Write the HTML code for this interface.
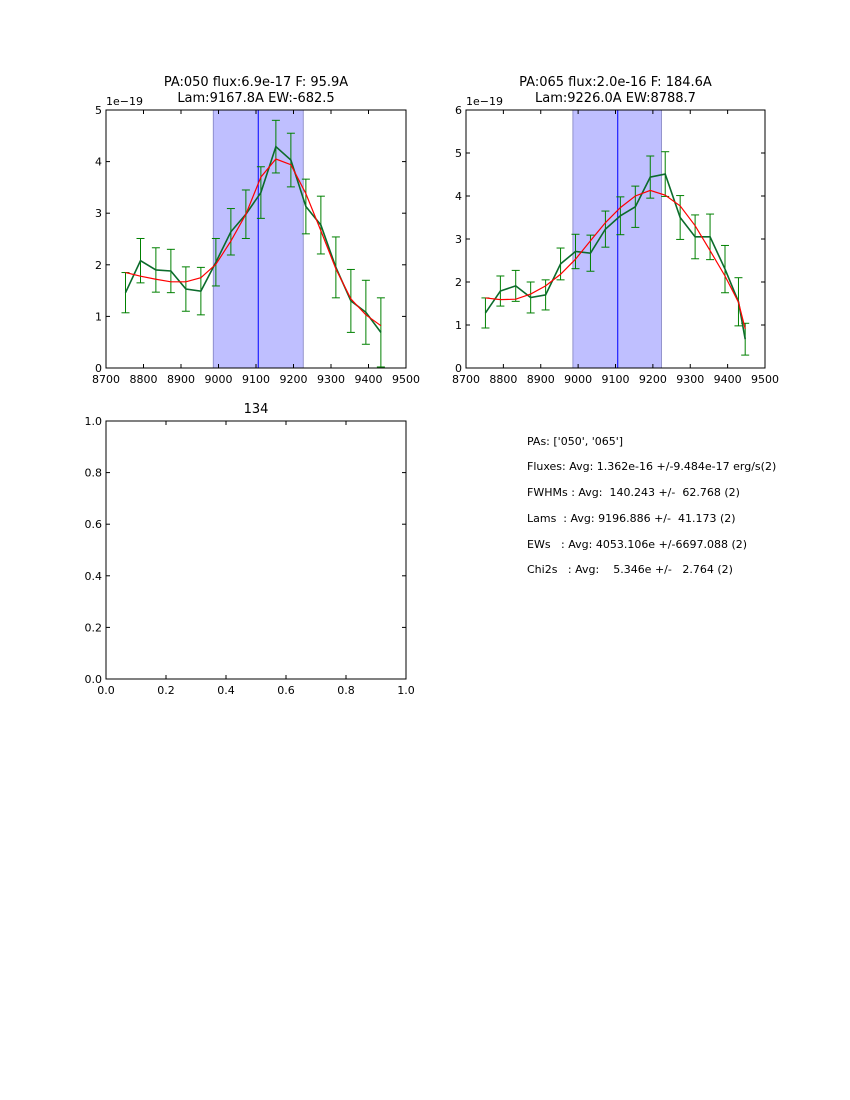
<!DOCTYPE html>
<html><head><meta charset="utf-8"><style>
body{margin:0;background:#fff;}
svg{display:block;font-family:"DejaVu Sans","Liberation Sans",sans-serif;}
</style></head><body>
<svg id="fig" width="850" height="1100" viewBox="0 0 850 1100" xmlns="http://www.w3.org/2000/svg">
<rect width="850" height="1100" fill="#fff"/>
<g id="summary" font-size="11" fill="#000">
<text x="527" y="445">PAs: ['050', '065']</text>
<text x="527" y="470" xml:space="preserve">Fluxes: Avg: 1.362e-16 +/-9.484e-17 erg/s(2)</text>
<text x="527" y="496" xml:space="preserve">FWHMs : Avg:  140.243 +/-  62.768 (2)</text>
<text x="527" y="522" xml:space="preserve">Lams  : Avg: 9196.886 +/-  41.173 (2)</text>
<text x="527" y="548" xml:space="preserve">EWs   : Avg: 4053.106e +/-6697.088 (2)</text>
<text x="527" y="573" xml:space="preserve">Chi2s   : Avg:    5.346e +/-   2.764 (2)</text>
</g>
</svg>
<script>
// Panel 1 data (PA 050), flux in units of 1e-19
const lam1 = [8752,8792,8833,8873,8913,8953,8993,9033,9073,9113,9153,9193,9233,9273,9313,9353,9393,9433];
const flux1 = [1.46,2.08,1.90,1.88,1.53,1.49,2.05,2.64,2.98,3.40,4.29,4.03,3.13,2.77,1.95,1.30,1.08,0.69];
const err1 = [0.39,0.43,0.43,0.42,0.43,0.46,0.46,0.45,0.47,0.50,0.51,0.52,0.53,0.56,0.59,0.61,0.62,0.67];
const fit1 = [1.85,1.78,1.72,1.67,1.67,1.75,2.01,2.46,2.98,3.70,4.05,3.94,3.38,2.66,1.92,1.34,1.03,0.82];
const band1 = [8986,9226];
const line1 = 9106;
const yTicks1 = [0,1,2,3,4,5];
// Panel 2 data (PA 065)
const lam2 = [8752,8792,8833,8873,8913,8953,8993,9033,9073,9113,9153,9193,9233,9273,9313,9353,9393,9429,9447];
const flux2 = [1.28,1.79,1.91,1.64,1.70,2.42,2.71,2.67,3.23,3.54,3.75,4.44,4.51,3.50,3.05,3.05,2.30,1.54,0.67];
const err2 = [0.35,0.35,0.36,0.36,0.35,0.37,0.40,0.42,0.42,0.44,0.48,0.49,0.52,0.51,0.51,0.53,0.55,0.56,0.37];
const fit2 = [1.63,1.59,1.60,1.72,1.91,2.18,2.53,2.96,3.38,3.73,4.00,4.13,4.02,3.77,3.31,2.73,2.14,1.53,0.91];
const band2 = [8986,9223];
const line2 = 9106;
const yTicks2 = [0,1,2,3,4,5,6];
const xTicks = [8700,8800,8900,9000,9100,9200,9300,9400,9500];
const emptyTicks = [0.0,0.2,0.4,0.6,0.8,1.0];

const NS='http://www.w3.org/2000/svg';
const svg=document.getElementById('fig');
function mk(tag,attrs,parent){const e=document.createElementNS(NS,tag);for(const k in attrs)e.setAttribute(k,attrs[k]);(parent||svg).appendChild(e);return e;}

function panel(o){
  const g=mk('g',{});
  
  
  const X=v=>o.x0+(v-o.xmin)/(o.xmax-o.xmin)*(o.x1-o.x0);
  const Y=v=>o.y1-(v-o.ymin)/(o.ymax-o.ymin)*(o.y1-o.y0);
  const cg=mk('g',{},g);
  if(o.band){
    const b=mk('rect',{x:X(o.band[0]),y:o.y0,width:X(o.band[1])-X(o.band[0]),height:o.y1-o.y0,fill:'#bfbfff',stroke:'#8080c0','stroke-width':0.8},cg);
    
    
    const vl=mk('line',{x1:X(o.vline),x2:X(o.vline),y1:o.y0,y2:o.y1,stroke:'#0000ff','stroke-width':1},cg);
    
    
  }
  if(o.lam){
    for(let i=0;i<o.lam.length;i++){
      const x=X(o.lam[i]);
      const top=Math.max(o.y0,Y(o.flux[i]+o.err[i])), bot=Math.min(o.y1,Y(o.flux[i]-o.err[i]));
      const eg=mk('g',{stroke:'#008000','stroke-width':1},cg);
      
      
      mk('line',{x1:x,x2:x,y1:Y(o.flux[i]+o.err[i]),y2:Y(o.flux[i]-o.err[i])},eg);
      mk('line',{x1:x-4,x2:x+4,y1:Y(o.flux[i]+o.err[i]),y2:Y(o.flux[i]+o.err[i])},eg);
      mk('line',{x1:x-4,x2:x+4,y1:Y(o.flux[i]-o.err[i]),y2:Y(o.flux[i]-o.err[i])},eg);
    }
    const dp=mk('polyline',{points:o.lam.map((l,i)=>X(l)+','+Y(o.flux[i])).join(' '),fill:'none',stroke:'#0b6b2b','stroke-width':1.6},cg);
    
    
    const fp=mk('polyline',{points:o.lam.map((l,i)=>X(l)+','+Y(o.fit[i])).join(' '),fill:'none',stroke:'#ff0000','stroke-width':1.2},cg);
    
    
  }
  const fr=mk('rect',{x:o.x0,y:o.y0,width:o.x1-o.x0,height:o.y1-o.y0,fill:'none',stroke:'#000','stroke-width':1},g);
  
  
  const tg=mk('g',{'font-size':11,fill:'#000'},g);
  o.xt.forEach(v=>{
    const x=X(v);
    mk('line',{x1:x,x2:x,y1:o.y1,y2:o.y1-4,stroke:'#000'},g);
    mk('line',{x1:x,x2:x,y1:o.y0,y2:o.y0+4,stroke:'#000'},g);
    const t=mk('text',{x:x,y:o.y1+15,'text-anchor':'middle'},tg);
    t.textContent=o.xfmt(v);
    
    
  });
  o.yt.forEach(v=>{
    const y=Y(v);
    mk('line',{x1:o.x0,x2:o.x0+4,y1:y,y2:y,stroke:'#000'},g);
    mk('line',{x1:o.x1,x2:o.x1-4,y1:y,y2:y,stroke:'#000'},g);
    const t=mk('text',{x:o.x0-4,y:y+4,'text-anchor':'end'},tg);
    t.textContent=o.yfmt(v);
    
    
  });
  if(o.offset){
    const t=mk('text',{x:o.x0,y:o.y0-5,'font-size':11},g);
    t.textContent='1e\u221219';
    
    
  }
  o.title.forEach((s,i)=>{
    const t=mk('text',{x:(o.x0+o.x1)/2,y:o.titleY+i*16,'text-anchor':'middle','font-size':13},g);
    t.textContent=s;
    
    
  });
}
panel({name:'panel-pa050',x0:106,x1:406,y0:110,y1:368,xmin:8700,xmax:9500,ymin:0,ymax:5,lam:lam1,flux:flux1,err:err1,fit:fit1,band:band1,vline:line1,xt:xTicks,yt:yTicks1,xfmt:v=>String(v),yfmt:v=>String(v),offset:true,title:['PA:050 flux:6.9e-17 F: 95.9A','Lam:9167.8A EW:-682.5'],titleY:86});
panel({name:'panel-pa065',x0:466,x1:765,y0:110,y1:368,xmin:8700,xmax:9500,ymin:0,ymax:6,lam:lam2,flux:flux2,err:err2,fit:fit2,band:band2,vline:line2,xt:xTicks,yt:yTicks2,xfmt:v=>String(v),yfmt:v=>String(v),offset:true,title:['PA:065 flux:2.0e-16 F: 184.6A','Lam:9226.0A EW:8788.7'],titleY:86});
panel({name:'panel-empty-134',x0:106,x1:406,y0:421,y1:679,xmin:0,xmax:1,ymin:0,ymax:1,xt:emptyTicks,yt:emptyTicks,xfmt:v=>v.toFixed(1),yfmt:v=>v.toFixed(1),title:['134'],titleY:413});
</script>
</body></html>
